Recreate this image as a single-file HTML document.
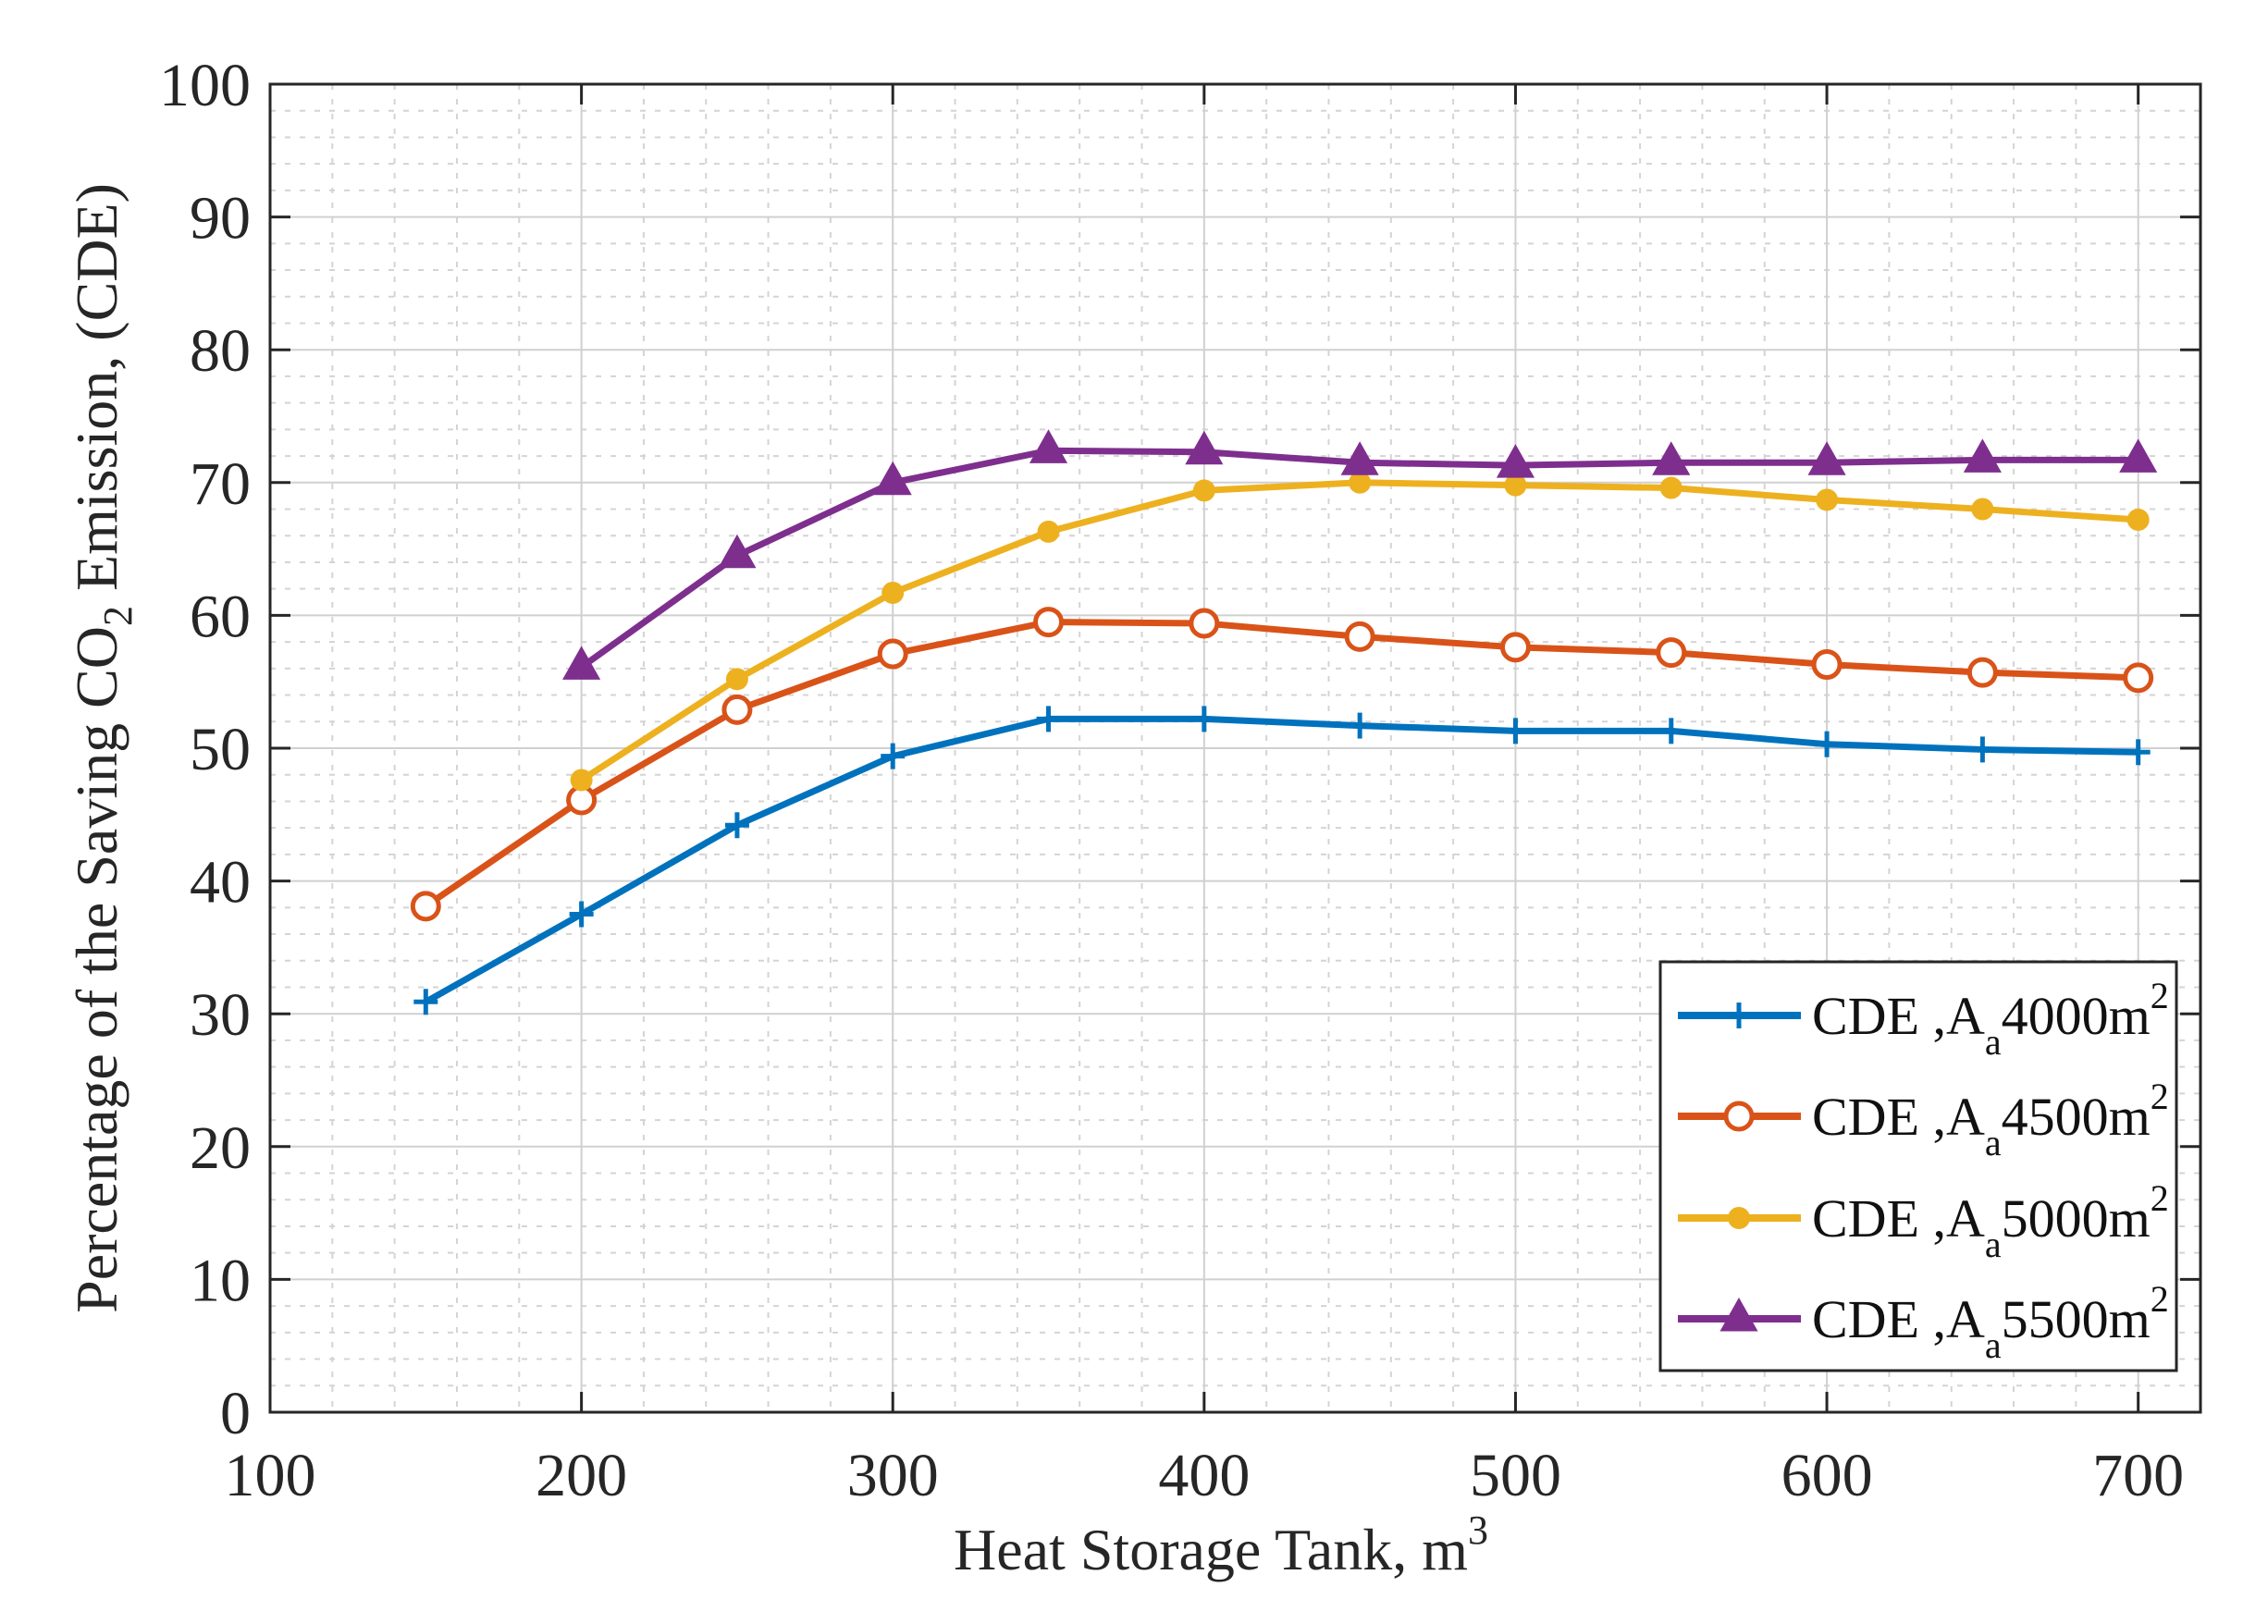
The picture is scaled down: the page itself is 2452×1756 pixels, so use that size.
<!DOCTYPE html>
<html><head><meta charset="utf-8"><style>
html,body{margin:0;padding:0;background:#fff;}
svg{display:block;font-family:"Liberation Serif",serif;}
</style></head><body>
<svg id="chart" width="2452" height="1756" viewBox="0 0 2452 1756" xmlns="http://www.w3.org/2000/svg">
<rect width="2452" height="1756" fill="#fff"/>
<g id="grid"></g><g id="series"></g><g id="axes"></g><g id="legend"></g>
</svg>
<script>
const xCats = [150,200,250,300,350,400,450,500,550,600,650,700];
const s4000 = [30.9,37.5,44.2,49.4,52.2,52.2,51.7,51.3,51.3,50.3,49.9,49.7];
const s4500 = [38.1,46.1,52.9,57.1,59.5,59.4,58.4,57.6,57.2,56.3,55.7,55.3];
const s5000 = [null,47.6,55.2,61.7,66.3,69.4,70.0,69.8,69.6,68.7,68.0,67.2];
const s5500 = [null,56.1,64.5,70.0,72.4,72.3,71.5,71.3,71.5,71.5,71.7,71.7];
const xTicks = [100,200,300,400,500,600,700];
const yTicks = [0,10,20,30,40,50,60,70,80,90,100];
const seriesNames = ["4000","4500","5000","5500"];

const L=292,R=2379,T=91,B=1527;
const XMIN=100,XMAX=720;
const xS=v=>L+(v-XMIN)/(XMAX-XMIN)*(R-L);
const yS=v=>B-v/100*(B-T);
const NS="http://www.w3.org/2000/svg";
function mk(tag,attrs,parent){const e=document.createElementNS(NS,tag);for(const k in attrs)e.setAttribute(k,attrs[k]);parent.appendChild(e);return e;}
const grid=document.getElementById('grid'),axes=document.getElementById('axes'),ser=document.getElementById('series'),leg=document.getElementById('legend');

for(let v=120;v<XMAX;v+=20){if(v%100===0)continue;const l=mk('line',{x1:xS(v),x2:xS(v),y1:T,y2:B,stroke:'#d4d4d4','stroke-width':2,'stroke-dasharray':'6 10'},grid);

}
for(let v=0;v<=100;v+=2){if(v%10===0)continue;const l=mk('line',{x1:L,x2:R,y1:yS(v),y2:yS(v),stroke:'#d4d4d4','stroke-width':2,'stroke-dasharray':'6 10'},grid);

}
xTicks.forEach(v=>{const l=mk('line',{x1:xS(v),x2:xS(v),y1:T,y2:B,stroke:'#d0d0d0','stroke-width':2},grid);


mk('line',{x1:xS(v),x2:xS(v),y1:B,y2:B-22,stroke:'#262626','stroke-width':3},axes);
mk('line',{x1:xS(v),x2:xS(v),y1:T,y2:T+22,stroke:'#262626','stroke-width':3},axes);
const t=mk('text',{x:xS(v),y:1617,'text-anchor':'middle','font-size':66,fill:'#262626'},axes);t.textContent=v;

});
yTicks.forEach(v=>{const l=mk('line',{x1:L,x2:R,y1:yS(v),y2:yS(v),stroke:'#d0d0d0','stroke-width':2},grid);


mk('line',{x1:L,x2:L+22,y1:yS(v),y2:yS(v),stroke:'#262626','stroke-width':3},axes);
mk('line',{x1:R,x2:R-22,y1:yS(v),y2:yS(v),stroke:'#262626','stroke-width':3},axes);
const t=mk('text',{x:271,y:yS(v)+23,'text-anchor':'end','font-size':66,fill:'#262626'},axes);t.textContent=v;

});
const box=mk('rect',{x:L,y:T,width:R-L,height:B-T,fill:'none',stroke:'#262626','stroke-width':3},axes);



const xl=mk('text',{x:1320,y:1697,'text-anchor':'middle','font-size':64,fill:'#262626'},axes);
xl.innerHTML='Heat Storage Tank, m<tspan dy="-28" font-size="44">3</tspan>';


const yl=mk('text',{x:0,y:0,'text-anchor':'middle','font-size':64,fill:'#262626',transform:'translate(126,809) rotate(-90)'},axes);
yl.innerHTML='Percentage of the Saving CO<tspan dy="16" font-size="44">2</tspan><tspan dy="-16"> Emission, (CDE)</tspan>';



const colors=['#0072BD','#D95319','#EDB120','#7E2F8E'];
const data=[s4000,s4500,s5000,s5500];
function marker(k,x,y,g){const c=colors[k];
 if(k===0){mk('line',{x1:x-13,x2:x+13,y1:y,y2:y,stroke:c,'stroke-width':5},g);mk('line',{x1:x,x2:x,y1:y-14,y2:y+14,stroke:c,'stroke-width':5},g);}
 else if(k===1){mk('circle',{cx:x,cy:y,r:14,fill:'#fff',stroke:c,'stroke-width':5},g);}
 else if(k===2){mk('circle',{cx:x,cy:y,r:12,fill:c},g);}
 else {mk('polygon',{points:`${x},${y-20} ${x-18},${y+12} ${x+18},${y+12}`,fill:c,stroke:c,'stroke-width':3},g);}
}
data.forEach((arr,k)=>{
 const g=mk('g',{},ser);
 
 
 const pts=[];arr.forEach((v,i)=>{if(v!==null)pts.push([xS(xCats[i]),yS(v)]);});
 const pl=mk('polyline',{points:pts.map(p=>p.join(',')).join(' '),fill:'none',stroke:colors[k],'stroke-width':7,'stroke-linejoin':'round'},g);
 
 
 pts.forEach(p=>marker(k,p[0],p[1],g));
});

const lb=mk('rect',{x:1795,y:1040,width:558,height:442,fill:'#fff',stroke:'#262626','stroke-width':3},leg);


const ly=[1098,1207,1317,1426];
seriesNames.forEach((n,k)=>{
 const g=mk('g',{},leg);
 
 
 mk('line',{x1:1814,x2:1947,y1:ly[k],y2:ly[k],stroke:colors[k],'stroke-width':8},g);
 marker(k,1880,ly[k],g);
 const t=mk('text',{x:1959,y:ly[k]+20,'font-size':58,fill:'#111'},g);
 t.innerHTML='CDE ,A<tspan dy="22" font-size="40">a</tspan><tspan dy="-22">'+n+'m</tspan><tspan dy="-28" font-size="40">2</tspan>';
});
</script>
</body></html>
